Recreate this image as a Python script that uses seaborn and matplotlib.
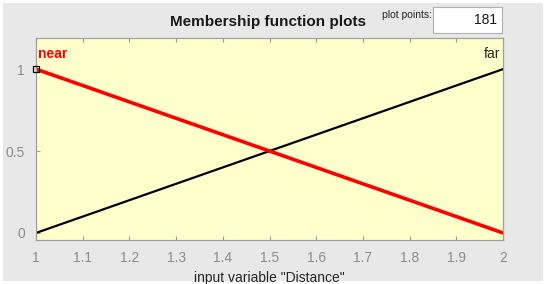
import matplotlib
matplotlib.use("Agg")
import matplotlib.pyplot as plt
import seaborn as sns
import pandas as pd
from matplotlib.patches import Rectangle

sns.set_theme(style="white")
plt.rcParams['font.family'] = ['Liberation Sans', 'DejaVu Sans']

x_near = [1.0, 2.0]
y_near = [1.0, 0.0]
x_far = [1.0, 2.0]
y_far = [0.0, 1.0]
xticks = [1, 1.1, 1.2, 1.3, 1.4, 1.5, 1.6, 1.7, 1.8, 1.9, 2]
yticks = [0, 0.5, 1]
ytick_labels = ["0", "0.5", "1"]
plot_points = "181"

fig = plt.figure(figsize=(5.49, 2.84), dpi=100)
fig.patch.set_facecolor("white")
fig.add_artist(Rectangle((3/549, 3/284), 540/549, 278/284, transform=fig.transFigure,
                         facecolor="#e8e8e8", edgecolor="none", zorder=-10))

ax = fig.add_axes([36/549, 1 - 240/284, 467/549, 202/284])
ax.set_facecolor("#ffffcc")

df_far = pd.DataFrame({"x": x_far, "y": y_far})
df_near = pd.DataFrame({"x": x_near, "y": y_near})
sns.lineplot(data=df_far, x="x", y="y", ax=ax, color="black", linewidth=1.6)
sns.lineplot(data=df_near, x="x", y="y", ax=ax, color="#ff0000", linewidth=2.6)
ax.plot([x_near[0]], [y_near[0]], marker="s", markersize=4, markerfacecolor="none",
        markeredgecolor="black", markeredgewidth=0.9, clip_on=False, zorder=5)

ax.set_xlim(1, 2)
ax.set_ylim(-0.043, 1.19)
ax.set_xticks(xticks)
ax.set_xticklabels([f"{t:g}" for t in xticks])
ax.set_yticks(yticks)
ax.set_yticklabels(ytick_labels)
ax.tick_params(axis="both", which="both", direction="in", length=3, width=0.8,
               colors="#999999", labelcolor="#8c8c8c", labelsize=10, pad=8,
               top=True, bottom=True, left=True, right=False)
for s in ax.spines.values():
    s.set_color("#a0a0a0")
    s.set_linewidth(0.9)

ax.set_xlabel('input variable "Distance"', fontsize=10, color="#262626", labelpad=4)
ax.set_ylabel("")

ax.text(1.005, 1.09, "near", color="#ff0000", fontsize=10, fontweight="bold",
        ha="left", va="center")
ax.text(1.995, 1.09, "far", color="#262626", fontsize=10, ha="right", va="center")

fig.text(268/549, 1 - 22/284, "Membership function plots", fontsize=11,
         fontweight="bold", ha="center", va="center", color="#1a1a1a")
fig.text(382/549, 1 - 15/284, "plot points:", fontsize=7.5, ha="left", va="center",
         color="#262626")
fig.add_artist(Rectangle((433/549, 1 - 33/284), 69/549, 26/284, transform=fig.transFigure,
                         facecolor="white", edgecolor="#b0b0b0", linewidth=0.8))
fig.text(497/549, 1 - 20/284, plot_points, fontsize=10, ha="right", va="center",
         color="#1a1a1a")

fig.savefig("out.png", dpi=100)
